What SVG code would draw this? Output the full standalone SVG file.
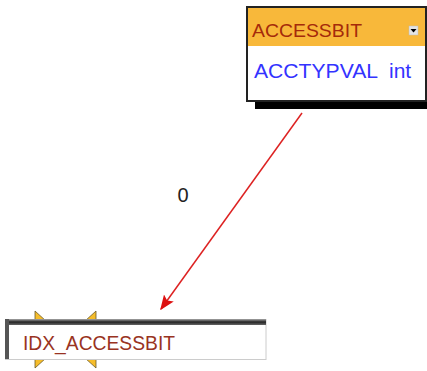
<svg xmlns="http://www.w3.org/2000/svg" width="427" height="371" viewBox="0 0 427 371">
<style>
.t{font-family:"Liberation Sans",Arial,sans-serif}
.key{fill:#f6bd2a;stroke:#6b5a2a;stroke-width:0.8}
</style>
<defs>
<marker id="ah" viewBox="0 0 10 10" refX="9" refY="5" markerWidth="15" markerHeight="15" markerUnits="userSpaceOnUse" orient="auto">
<path d="M0,1 L10,5 L0,9 L2,5 Z" fill="#dd1111"/>
</marker>
<linearGradient id="tb" x1="0" y1="0" x2="0" y2="1">
<stop offset="0" stop-color="#aaaaaa"/>
<stop offset="0.5" stop-color="#222222"/>
<stop offset="1" stop-color="#666666"/>
</linearGradient>
</defs>
<rect width="427" height="371" fill="#ffffff"/>
<g id="connectors">
<line x1="302" y1="113" x2="161" y2="309" stroke="#dd2222" stroke-width="1.5" marker-end="url(#ah)"/>
<text class="t" x="183" y="202" font-size="20" text-anchor="middle" fill="#222222">0</text>
</g>
<g id="ACCESSBIT">
<rect x="255" y="15" width="180" height="94" fill="#000000"/>
<rect x="247" y="7" width="179" height="94" fill="#ffffff" stroke="#222222" stroke-width="2"/>
<rect x="248" y="8" width="177" height="38" fill="#f8b83a"/>
<text class="t" x="252" y="37" font-size="19" textLength="110" lengthAdjust="spacingAndGlyphs" fill="#a52a0a">ACCESSBIT</text>
<rect x="409" y="26" width="9" height="9" fill="#e4e4e4" stroke="#bbbbbb" stroke-width="0.5"/>
<path d="M410.5,29 L416.5,29 L413.5,32.5 Z" fill="#000000"/>
<text class="t" x="254" y="78" font-size="21" textLength="124" lengthAdjust="spacingAndGlyphs" fill="#3333ff">ACCTYPVAL</text>
<text class="t" x="389" y="78" font-size="21" fill="#3333ff">int</text>
</g>
<g id="IDX_ACCESSBIT">
<polygon class="key" points="35,311 46,321 35,321"/>
<polygon class="key" points="96,311 85,321 96,321"/>
<polygon class="key" points="35,368 46,358 35,358"/>
<polygon class="key" points="96,368 85,358 96,358"/>
<rect x="5.5" y="319.5" width="260.5" height="40" fill="#ffffff" stroke="#cccccc" stroke-width="1"/>
<rect x="5" y="319" width="261" height="6" fill="url(#tb)"/>
<rect x="5" y="319" width="4" height="40" fill="#555555"/>
<text class="t" x="23" y="350" font-size="20" textLength="152" lengthAdjust="spacingAndGlyphs" fill="#993322">IDX_ACCESSBIT</text>
</g>
</svg>
